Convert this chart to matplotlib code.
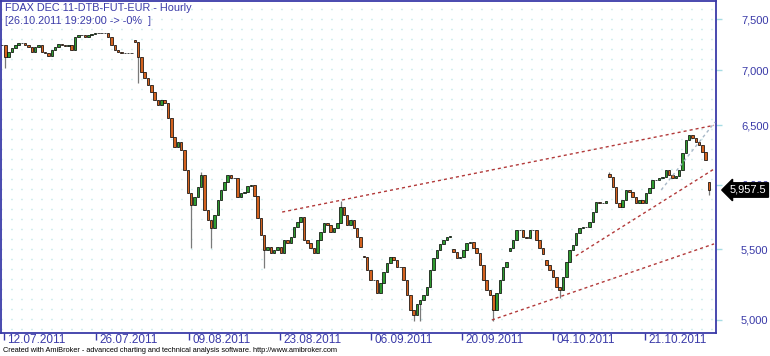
import numpy as np
import matplotlib
matplotlib.use('Agg')
import matplotlib.pyplot as plt
import matplotlib.transforms as mtransforms

plt.rcParams['font.family'] = ['Liberation Sans', 'DejaVu Sans']

# hourly closes (left to right)
close = [
    # 12.07 - 25.07
    7243, 7127, 7175, 7214, 7243, 7263, 7263, 7243, 7224, 7175,
    7224, 7243, 7175, 7165, 7136, 7195, 7224, 7253, 7243, 7234,
    7243, 7195, 7322, 7342, 7342, 7322, 7342, 7352, 7362, 7362,
    7362, 7362, 7322, 7243, 7195, 7175, 7165, 7165, 7165, 7165,
    7273, 7127, 6982, 6928, 6864,
    # crash into August
    6799, 6726, 6681, 6726, 6699, 6565, 6399, 6313, 6356, 6287,
    6120, 5934, 5838, 5902, 5982, 6079, 5799, 5721, 5660, 5760,
    5878, 5958, 6022, 6079, 6054, 6054, 5902, 5934, 5942, 5990,
    5998, 5910, 5737, 5607,
    # late August - October
    5495, 5517, 5473, 5495, 5517, 5473, 5569, 5546, 5592, 5668,
    5706, 5745, 5569, 5546, 5510, 5473, 5569, 5630, 5698, 5683,
    5630, 5660, 5698, 5823, 5760, 5683, 5721, 5660, 5592, 5517,
    5443, 5348, 5277, 5277, 5185, 5256, 5334, 5399, 5443, 5421,
    5370, 5370, 5277, 5171, 5068, 5034, 5109, 5137, 5171, 5227,
    5348, 5436, 5495, 5539, 5569, 5592, 5600, 5480, 5436, 5443,
    5495, 5546, 5554, 5510, 5473, 5384, 5277, 5206, 5171, 5068,
    5185, 5277, 5370, 5406, 5510, 5569, 5645, 5645, 5592, 5584,
    5645, 5645, 5569, 5510, 5466, 5384, 5348, 5298, 5227, 5206,
    5298, 5406, 5495, 5532, 5622, 5660, 5668, 5668, 5706, 5783,
    5862, 5854, 5854, 5870, 6063, 5982, 5854, 5823, 5878, 5958,
    5942, 5902, 5854, 5878, 5854, 5934, 5974, 6038, 6038, 6054,
    6063, 6120, 6079, 6054, 6071, 6120, 6262, 6373, 6416, 6390,
    6356, 6330, 6270, 6203, 5957.5,
]

# opens after session gaps (other bars open at the previous close)
gap_open = {40: 7290, 109: 5450, 136: 5500, 153: 5490, 164: 5420, 183: 6090, 213: 6020}

# long wicks that stick out of the bodies
wick_low = {1: 7020, 41: 6882, 57: 5510, 63: 5510, 79: 5363, 124: 4990, 126: 4995,
            148: 4990, 168: 5150, 213: 5918}
wick_high = {60: 6103, 102: 5870, 183: 6100}

# date labels and the bar they sit on
date_labels = ['12.07.2011', '26.07.2011', '09.08.2011', '23.08.2011',
               '06.09.2011', '20.09.2011', '04.10.2011', '21.10.2011']
date_bars = [0.6, 28.3, 56.3, 83.8, 111.2, 138.6, 166.0, 193.7]

price_ticks = [5000, 5500, 6000, 6500, 7000, 7500]

# red trend lines: (bar, price) start and end
trend_lines = [
    ((84.4, 5783), (214.5, 6500)),
    ((147.6, 5000), (214.5, 5540)),
    ((172.9, 5451), (214.5, 6128)),
]
grey_line = ((198.6, 5958), (214.8, 6529))

last_price = 5957.5

# ---------------------------------------------------------------
blue = '#3a3aa8'
n = len(close)
x = np.arange(n)
opens = [close[0]] + close[:-1]
for k, v in gap_open.items():
    opens[k] = v
opens = np.array(opens, dtype=float)
closes = np.array(close, dtype=float)
lo = np.minimum(opens, closes)
hi = np.maximum(opens, closes)
for k, v in wick_low.items():
    lo[k] = v
for k, v in wick_high.items():
    hi[k] = v

fig = plt.figure(figsize=(7.7, 3.56), dpi=100)
rect = [1 / 770, 23 / 356, 715 / 770, 332 / 356]

# dotted background lattice
bg = fig.add_axes(rect, zorder=0)
bg.set_xlim(0, 715)
bg.set_ylim(0, 332)
for yy in np.arange(4, 332, 10):
    bg.axhline(yy, color='#9fdede', lw=1.0, linestyle=(0, (0.7, 6.5)))
bg.axis('off')

ax = fig.add_axes(rect, zorder=1)
ax.patch.set_alpha(0)
ax.set_yscale('log')

ax.vlines(x, lo, hi, color='#7a7a7a', lw=0.9, zorder=2)
cols = np.where(closes >= opens, '#2f9a2f', '#d4621e')
heights = closes - opens
heights = np.where(np.abs(heights) < 3, 3, heights)
ax.bar(x, heights, bottom=opens, width=0.75, color=cols, edgecolor='black',
       linewidth=0.5, zorder=3)

for (x0, y0), (x1, y1) in trend_lines:
    ax.plot([x0, x1], [y0, y1], color='#b23a3a', lw=1.0, linestyle=(0, (2.2, 2.2)), zorder=4)
ax.plot([grey_line[0][0], grey_line[1][0]], [grey_line[0][1], grey_line[1][1]],
        color='#a8b8c8', lw=1.0, linestyle=(0, (2.2, 2.2)), zorder=4)

ax.set_xlim(-0.3, 215.1)
ax.set_ylim(4913, 7686)

for s in ax.spines.values():
    s.set_color(blue)
    s.set_linewidth(1.3)

ax.yaxis.tick_right()
ax.set_yticks(price_ticks)
ax.set_yticklabels([f'{p:,}' for p in price_ticks])
ax.yaxis.set_minor_locator(matplotlib.ticker.NullLocator())
ax.tick_params(axis='y', which='major', colors='#a6dce4', labelcolor=blue,
               length=4, width=1, pad=14, labelsize=8)

ax.set_xticks(date_bars)
ax.set_xticklabels([''] * len(date_bars))
ax.tick_params(axis='x', colors=blue, length=5, width=1)
for b, lbl in zip(date_bars, date_labels):
    ax.annotate(lbl, xy=(b, 0), xycoords=('data', 'axes fraction'),
                xytext=(2.5, -0.5), textcoords='offset points', ha='left', va='top',
                color=blue, fontsize=8.5, annotation_clip=False)

# last price box
trans = mtransforms.blended_transform_factory(ax.transAxes, ax.transData)
ax.text(1.019, last_price, f'{last_price:,.1f}', transform=trans, ha='left', va='center',
        color='white', fontsize=8, clip_on=False, zorder=10,
        bbox=dict(boxstyle='larrow,pad=0.2', facecolor='black', edgecolor='black'))

fig.text(5 / 770, 1 - 3 / 356, 'FDAX DEC 11-DTB-FUT-EUR - Hourly', color=blue,
         fontsize=7.8, ha='left', va='top')
fig.text(5 / 770, 1 - 16 / 356, '[26.10.2011 19:29:00 -> -0%  ]', color=blue,
         fontsize=7.8, ha='left', va='top')
fig.text(3 / 770, 6 / 356, 'Created with AmiBroker - advanced charting and technical '
         'analysis software. http://www.amibroker.com', color='black', fontsize=5.3,
         ha='left', va='center')

fig.savefig('out.png', dpi=100)
